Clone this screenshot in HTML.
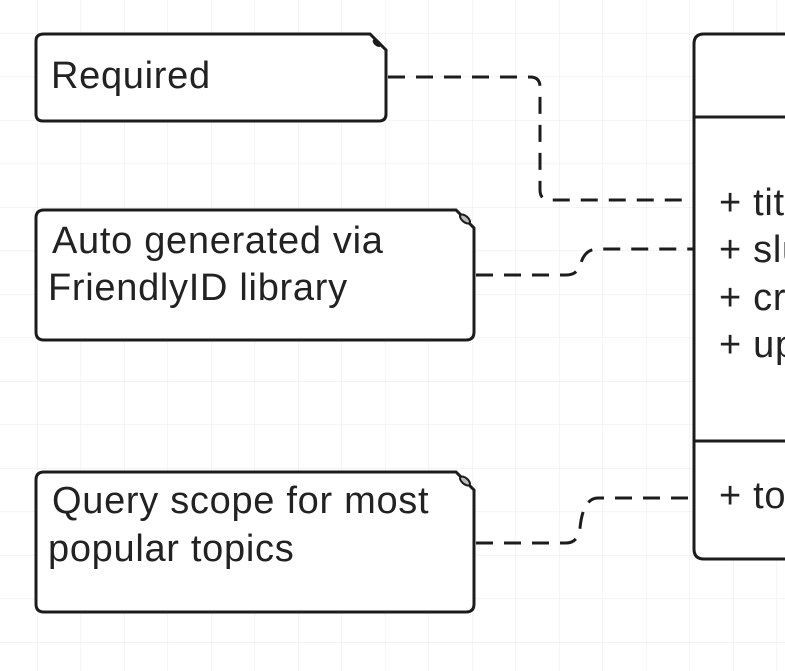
<!DOCTYPE html>
<html><head><meta charset="utf-8"><style>
html,body{margin:0;padding:0;background:#fff;}
svg{display:block;}
text{font-family:"Liberation Sans",sans-serif;fill:#222;font-size:38px;letter-spacing:0.7px;}
</style></head><body>
<svg width="785" height="671" viewBox="0 0 785 671" xmlns="http://www.w3.org/2000/svg">
<defs>
<pattern id="g" x="37" y="33" width="43.5" height="43.5" patternUnits="userSpaceOnUse">
<path d="M0 0H43.5M0 0V43.5" stroke="#eeeeee" stroke-width="1.2" fill="none"/>
</pattern>
</defs>
<rect width="785" height="671" fill="url(#g)"/>
<g fill="#fff" stroke="#1c1c1c" stroke-width="3">
<path d="M44 34H370L386 50V114Q386 121 379 121H43Q36 121 36 114V41Q36 34 44 34Z"/>
<path d="M44 210H456L474 228V332Q474 340 466 340H44Q36 340 36 332V218Q36 210 44 210Z"/>
<path d="M44 472H456L474 490V604Q474 612 466 612H44Q36 612 36 604V480Q36 472 44 472Z"/>
<path d="M800 34H704Q694 34 694 44V549Q694 559 704 559H800"/>
<line x1="694" y1="117" x2="800" y2="117"/>
<line x1="694" y1="441" x2="800" y2="441"/>
</g>
<g fill="#1c1c1c">
<ellipse cx="377" cy="43" rx="5" ry="3" transform="rotate(40 377 43)"/>
<ellipse cx="465" cy="219" rx="6" ry="3" fill="#bbb" stroke="#1c1c1c" stroke-width="2" transform="rotate(40 465 219)"/>
<ellipse cx="465" cy="481" rx="6" ry="3" fill="#bbb" stroke="#1c1c1c" stroke-width="2" transform="rotate(40 465 481)"/>
</g>
<g fill="none" stroke="#1c1c1c" stroke-width="3" stroke-dasharray="17,11">
<path d="M388 77H530Q540 77 540 87V190Q540 200 550 200H694"/>
<path d="M476 275H566Q578 275 581 263Q585 249 598 249H694"/>
<path d="M476 543H566Q578 543 580 528Q583 498 598 498H694"/>
</g>
<text x="51" y="88">Required</text>
<text x="52" y="253">Auto generated via</text>
<text x="48" y="300">FriendlyID library</text>
<text x="52" y="513">Query scope for most</text>
<text x="48" y="561">popular topics</text>
<text x="719" y="215">+ title</text>
<text x="719" y="262">+ slug</text>
<text x="719" y="310">+ created_at</text>
<text x="719" y="357">+ updated_at</text>
<text x="719" y="508">+ top</text>
</svg>
</body></html>
